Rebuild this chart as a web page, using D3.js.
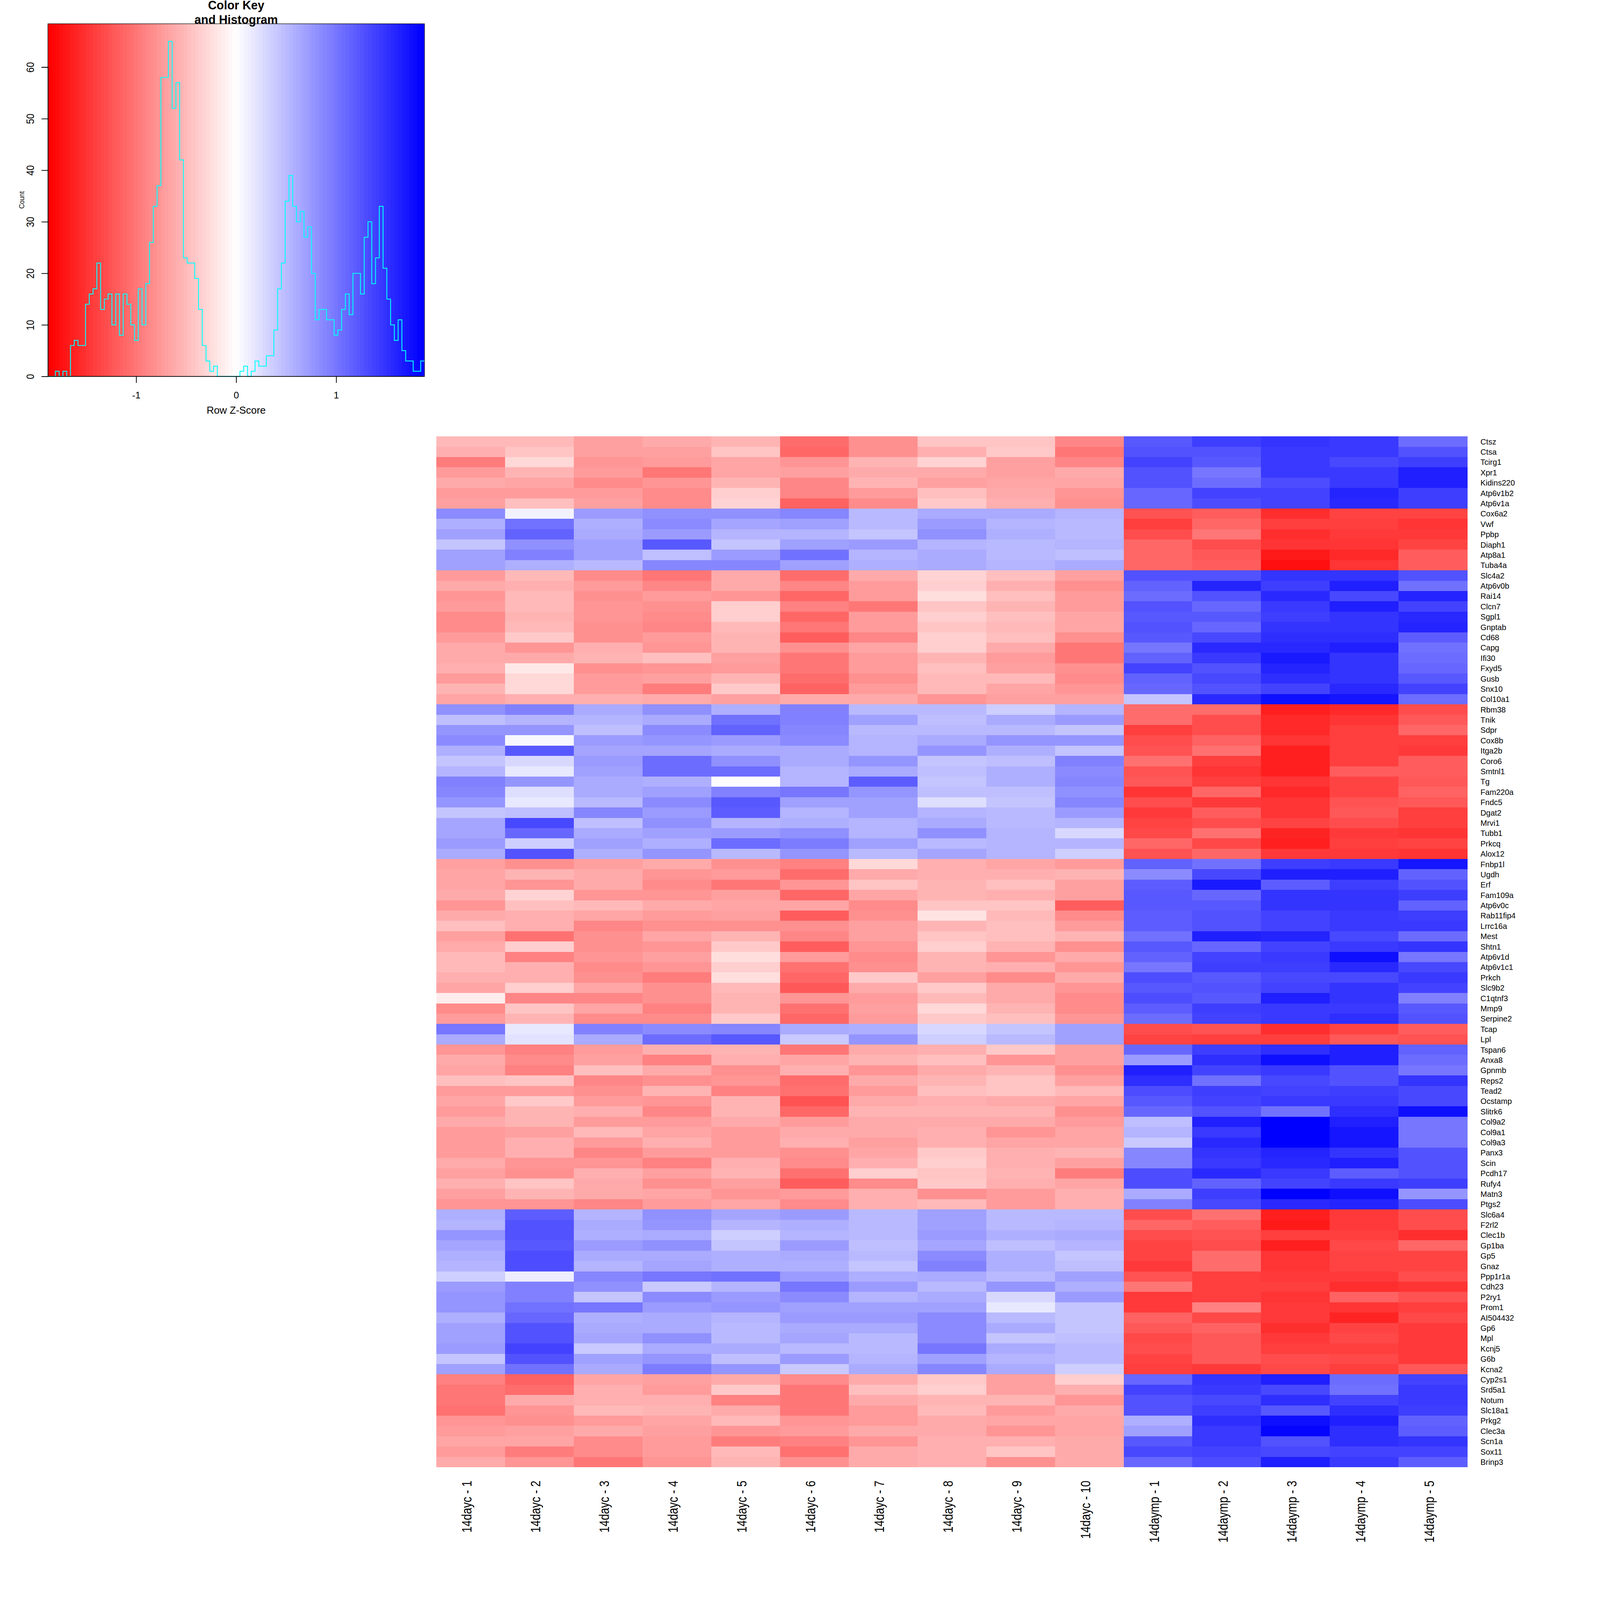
<!DOCTYPE html>
<html><head><meta charset="utf-8">
<script src="https://cdnjs.cloudflare.com/ajax/libs/d3/7.8.5/d3.min.js"></script>
<style>html,body{margin:0;padding:0;background:#fff;overflow:hidden}svg{display:block;width:min(100vw,100vh);height:min(100vw,100vh)}text{font-family:"Liberation Sans",Arial,sans-serif;fill:#000}</style>
</head><body><svg id="c" viewBox="0 0 4800 4800" preserveAspectRatio="xMinYMin meet"></svg>
<script>
const colLabels=["14dayc - 1","14dayc - 2","14dayc - 3","14dayc - 4","14dayc - 5","14dayc - 6","14dayc - 7","14dayc - 8","14dayc - 9","14dayc - 10","14daymp - 1","14daymp - 2","14daymp - 3","14daymp - 4","14daymp - 5"];
const rowLabels=["Ctsz","Ctsa","Tcirg1","Xpr1","Kidins220","Atp6v1b2","Atp6v1a","Cox6a2","Vwf","Ppbp","Diaph1","Atp8a1","Tuba4a","Slc4a2","Atp6v0b","Rai14","Clcn7","Sgpl1","Gnptab","Cd68","Capg","Ifi30","Fxyd5","Gusb","Snx10","Col10a1","Rbm38","Tnik","Sdpr","Cox8b","Itga2b","Coro6","Smtnl1","Tg","Fam220a","Fndc5","Dgat2","Mrvi1","Tubb1","Prkcq","Alox12","Fnbp1l","Ugdh","Erf","Fam109a","Atp6v0c","Rab11fip4","Lrrc16a","Mest","Shtn1","Atp6v1d","Atp6v1c1","Prkch","Slc9b2","C1qtnf3","Mmp9","Serpine2","Tcap","Lpl","Tspan6","Anxa8","Gpnmb","Reps2","Tead2","Ocstamp","Slitrk6","Col9a2","Col9a1","Col9a3","Panx3","Scin","Pcdh17","Rufy4","Matn3","Ptgs2","Slc6a4","F2rl2","Clec1b","Gp1ba","Gp5","Gnaz","Ppp1r1a","Cdh23","P2ry1","Prom1","AI504432","Gp6","Mpl","Kcnj5","G6b","Kcna2","Cyp2s1","Srd5a1","Notum","Slc18a1","Prkg2","Clec3a","Scn1a","Sox11","Brinp3"];
const zScores=[
[-.52,-.52,-.70,-.64,-.55,-1.06,-.82,-.45,-.45,-.90,1.23,1.41,1.50,1.44,1.08],
[-.60,-.42,-.70,-.68,-.42,-1.12,-.80,-.58,-.40,-1.00,1.25,1.25,1.44,1.44,1.28],
[-.95,-.28,-.76,-.74,-.66,-.76,-.56,-.33,-.68,-.88,1.38,1.23,1.44,1.32,1.42],
[-.72,-.56,-.74,-.98,-.66,-.70,-.62,-.62,-.70,-.62,1.28,1.00,1.44,1.44,1.65],
[-.62,-.66,-.84,-.76,-.55,-.88,-.53,-.70,-.66,-.66,1.28,1.08,1.30,1.44,1.65],
[-.74,-.72,-.72,-.84,-.37,-.90,-.72,-.46,-.62,-.76,1.12,1.38,1.38,1.60,1.42],
[-.68,-.48,-.70,-.84,-.32,-1.16,-.84,-.40,-.60,-.80,1.12,1.30,1.38,1.58,1.42],
[.86,.08,.72,.82,.82,.90,.52,.62,.62,.55,-1.25,-1.17,-1.53,-1.38,-1.38],
[.60,1.05,.58,.85,.65,.68,.52,.74,.55,.52,-1.42,-1.10,-1.42,-1.42,-1.47],
[.70,1.13,.64,.74,.56,.55,.44,.82,.58,.52,-1.30,-.98,-1.53,-1.45,-1.45],
[.44,.82,.70,1.23,.44,.70,.74,.56,.50,.55,-1.10,-1.30,-1.50,-1.50,-1.38],
[.70,.94,.70,.46,.72,1.03,.56,.62,.50,.46,-1.12,-1.23,-1.68,-1.55,-1.17],
[.70,.58,.50,.88,.90,.70,.58,.62,.56,.64,-1.12,-1.17,-1.76,-1.48,-1.17],
[-.72,-.50,-.86,-.98,-.62,-1.06,-.62,-.33,-.48,-.70,1.28,1.25,1.50,1.50,1.28],
[-.62,-.60,-.74,-.88,-.62,-.88,-.72,-.36,-.60,-.80,1.15,1.60,1.42,1.62,1.03],
[-.78,-.50,-.80,-.72,-.76,-1.10,-.74,-.24,-.46,-.72,1.08,1.28,1.58,1.35,1.60],
[-.74,-.52,-.76,-.80,-.36,-.92,-1.00,-.44,-.55,-.72,1.28,1.12,1.44,1.62,1.38],
[-.84,-.55,-.76,-.84,-.35,-1.12,-.72,-.37,-.48,-.66,1.22,1.23,1.40,1.50,1.55],
[-.84,-.50,-.80,-.90,-.52,-1.00,-.72,-.44,-.50,-.66,1.26,1.10,1.47,1.50,1.60],
[-.72,-.38,-.80,-.72,-.55,-1.17,-.88,-.35,-.46,-.82,1.22,1.33,1.53,1.53,1.20],
[-.62,-.78,-.58,-.76,-.55,-.82,-.66,-.35,-.62,-.98,1.00,1.55,1.55,1.65,1.05],
[-.62,-.64,-.53,-.48,-.70,-.98,-.72,-.53,-.74,-1.00,1.15,1.44,1.68,1.47,1.06],
[-.60,-.16,-.80,-.78,-.74,-1.00,-.72,-.46,-.68,-.80,1.38,1.26,1.60,1.47,1.10],
[-.72,-.28,-.72,-.68,-.55,-1.08,-.82,-.50,-.52,-.86,1.14,1.33,1.53,1.47,1.24],
[-.53,-.30,-.74,-.96,-.40,-1.14,-.74,-.52,-.66,-.78,1.12,1.26,1.38,1.55,1.38],
[-.66,-.60,-.60,-.64,-.68,-.64,-.62,-.76,-.70,-.70,.42,1.58,1.74,1.70,1.06],
[.80,.94,.64,.82,.58,.94,.50,.50,.35,.56,-1.06,-1.06,-1.62,-1.58,-1.30],
[.48,.55,.55,.62,1.03,.92,.70,.46,.62,.74,-1.06,-1.30,-1.58,-1.50,-1.24],
[.78,.78,.46,.85,1.14,.88,.52,.52,.52,.44,-1.40,-1.30,-1.58,-1.40,-1.10],
[.85,.06,.74,.76,.72,.84,.56,.62,.76,.76,-1.30,-1.14,-1.50,-1.42,-1.42],
[.60,1.23,.66,.66,.62,.64,.56,.76,.58,.44,-1.26,-1.04,-1.64,-1.40,-1.44],
[.42,.28,.72,1.06,.82,.62,.76,.44,.46,.94,-1.04,-1.40,-1.64,-1.40,-1.20],
[.56,.16,.70,1.06,1.06,.55,.64,.46,.58,.84,-1.26,-1.50,-1.62,-1.20,-1.17],
[.94,.76,.64,.58,.02,.55,1.18,.44,.58,.88,-1.22,-1.42,-1.50,-1.36,-1.22],
[.90,.24,.64,.70,.94,1.00,.76,.46,.48,.82,-1.50,-1.12,-1.56,-1.36,-1.14],
[.76,.16,.52,.86,1.24,.70,.70,.24,.42,.90,-1.30,-1.46,-1.48,-1.26,-1.23],
[.42,.46,.88,.74,1.17,.55,.70,.54,.50,.74,-1.46,-1.20,-1.48,-1.24,-1.40],
[.66,1.33,.46,.80,.54,.58,.54,.64,.50,.55,-1.36,-1.30,-1.38,-1.30,-1.42],
[.66,1.10,.62,.70,.72,.80,.54,.82,.54,.30,-1.32,-1.02,-1.60,-1.46,-1.50],
[.74,.36,.70,.58,1.06,.95,.70,.50,.54,.54,-1.12,-1.34,-1.65,-1.42,-1.38],
[.62,1.28,.58,.76,.52,.76,.52,.66,.54,.35,-1.28,-1.12,-1.46,-1.46,-1.48],
[-.68,-.80,-.70,-.62,-.82,-.94,-.30,-.60,-.66,-.72,1.14,1.02,1.42,1.44,1.70],
[-.66,-.54,-.64,-.78,-.72,-1.06,-.62,-.60,-.60,-.53,.86,1.33,1.65,1.65,1.15],
[-.66,-.78,-.62,-.86,-1.00,-.76,-.44,-.56,-.46,-.70,1.18,1.66,1.18,1.40,1.28],
[-.62,-.32,-.78,-.78,-.68,-1.12,-.66,-.55,-.60,-.68,1.24,1.10,1.50,1.50,1.40],
[-.78,-.46,-.52,-.64,-.66,-.66,-.84,-.42,-.42,-1.20,1.24,1.24,1.50,1.50,1.16],
[-.64,-.58,-.66,-.72,-.68,-1.18,-.80,-.20,-.50,-.84,1.20,1.28,1.38,1.46,1.42],
[-.48,-.58,-.90,-.80,-.80,-.80,-.68,-.55,-.46,-.72,1.20,1.28,1.38,1.46,1.46],
[-.68,-1.02,-.82,-.66,-.56,-.90,-.70,-.42,-.46,-.54,1.02,1.62,1.60,1.32,1.08],
[-.62,-.35,-.80,-.78,-.38,-1.20,-.78,-.35,-.55,-.82,1.22,1.12,1.38,1.46,1.50],
[-.50,-.94,-.76,-.70,-.26,-.74,-.84,-.55,-.76,-.62,1.16,1.36,1.46,1.76,.98],
[-.52,-.60,-.84,-.78,-.35,-1.02,-.82,-.56,-.58,-.78,1.00,1.40,1.40,1.55,1.32],
[-.58,-.58,-.80,-.96,-.24,-1.10,-.40,-.70,-.84,-.62,1.30,1.22,1.32,1.34,1.46],
[-.66,-.34,-.66,-.82,-.52,-1.24,-.64,-.38,-.62,-.78,1.23,1.28,1.38,1.50,1.36],
[-.12,-.88,-.90,-.82,-.56,-.78,-.72,-.52,-.62,-.84,1.30,1.22,1.65,1.50,.94],
[-.84,-.44,-.66,-.92,-.56,-1.02,-.70,-.30,-.54,-.84,1.20,1.40,1.46,1.46,1.22],
[-.74,-.54,-.84,-.84,-.40,-1.10,-.74,-.40,-.48,-.76,1.08,1.38,1.46,1.54,1.26],
[1.00,.16,.92,.86,.88,.64,.58,.30,.44,.70,-1.30,-1.26,-1.54,-1.38,-1.20],
[.64,.20,.64,1.06,1.24,.38,.76,.36,.52,.70,-1.36,-1.42,-1.42,-1.22,-1.28],
[-.76,-.92,-.72,-.60,-.55,-1.00,-.62,-.58,-.38,-.70,1.12,1.40,1.52,1.64,1.14],
[-.62,-.86,-.70,-.92,-.60,-.66,-.56,-.48,-.76,-.70,.72,1.54,1.74,1.64,1.06],
[-.66,-.92,-.46,-.62,-.80,-.58,-.76,-.64,-.55,-.82,1.64,1.38,1.46,1.26,1.00],
[-.46,-.42,-.90,-.82,-.78,-1.06,-.62,-.54,-.42,-.68,1.54,1.02,1.34,1.28,1.48],
[-.72,-.72,-.80,-.54,-.94,-1.04,-.74,-.46,-.42,-.50,1.30,1.40,1.38,1.42,1.32],
[-.66,-.40,-.72,-.76,-.54,-1.26,-.62,-.58,-.62,-.66,1.22,1.36,1.44,1.44,1.32],
[-.72,-.54,-.60,-.90,-.54,-1.10,-.54,-.56,-.54,-.82,1.10,1.25,1.04,1.52,1.76],
[-.62,-.54,-.72,-.72,-.62,-.74,-.62,-.62,-.64,-.72,.47,1.62,1.88,1.65,.98],
[-.72,-.68,-.52,-.66,-.74,-.64,-.64,-.60,-.76,-.66,.56,1.44,1.88,1.72,.98],
[-.72,-.60,-.72,-.60,-.72,-.60,-.68,-.60,-.66,-.66,.38,1.56,1.88,1.72,.98],
[-.72,-.60,-.88,-.74,-.74,-.82,-.66,-.40,-.60,-.54,.90,1.50,1.60,1.50,1.25],
[-.62,-.78,-.78,-.92,-.60,-.86,-.60,-.34,-.60,-.68,.90,1.46,1.58,1.62,1.25],
[-.68,-.82,-.58,-.70,-.56,-1.04,-.34,-.44,-.56,-.96,1.30,1.56,1.44,1.18,1.28],
[-.58,-.42,-.64,-.80,-.70,-1.18,-.84,-.38,-.60,-.66,1.30,1.16,1.36,1.46,1.40],
[-.70,-.56,-.62,-.66,-.76,-.74,-.58,-.82,-.72,-.58,.64,1.42,1.88,1.76,.78],
[-.76,-.76,-.88,-.74,-.66,-.84,-.58,-.50,-.74,-.58,.94,1.34,1.56,1.60,1.30],
[.58,1.18,.56,.80,.66,.74,.50,.70,.50,.50,-1.30,-1.04,-1.62,-1.44,-1.30],
[.56,1.28,.62,.76,.56,.58,.50,.68,.50,.56,-1.12,-1.20,-1.66,-1.46,-1.30],
[.76,1.28,.58,.62,.36,.54,.52,.72,.60,.64,-1.30,-1.26,-1.40,-1.40,-1.54],
[.66,1.24,.72,.82,.44,.74,.46,.66,.46,.56,-1.36,-1.30,-1.65,-1.34,-1.10],
[.58,1.30,.62,.62,.58,.62,.50,.85,.60,.44,-1.36,-1.06,-1.50,-1.38,-1.38],
[.56,1.30,.54,.66,.58,.58,.44,.94,.58,.46,-1.44,-1.06,-1.50,-1.38,-1.38],
[.36,.14,.90,1.00,1.03,.72,.58,.62,.50,.70,-1.26,-1.40,-1.44,-1.44,-1.30],
[.72,.92,.82,.38,.54,.98,.74,.52,.76,.60,-.98,-1.40,-1.40,-1.52,-1.50],
[.76,.94,.44,.84,.74,.86,.56,.62,.30,.74,-1.46,-1.40,-1.50,-1.14,-1.28],
[.78,1.04,.98,.72,.78,.70,.70,.70,.18,.42,-1.46,-.94,-1.46,-1.50,-1.40],
[.58,1.12,.58,.64,.54,.74,.74,.84,.52,.44,-1.14,-1.34,-1.46,-1.60,-1.34],
[.70,1.26,.64,.64,.50,.64,.62,.86,.62,.44,-1.24,-1.16,-1.54,-1.36,-1.46],
[.68,1.26,.66,.82,.52,.66,.52,.84,.44,.46,-1.32,-1.22,-1.46,-1.32,-1.44],
[.72,1.36,.40,.64,.62,.52,.50,1.00,.62,.50,-1.30,-1.24,-1.40,-1.40,-1.44],
[.44,1.28,.70,.76,.48,.74,.56,.68,.56,.50,-1.38,-1.22,-1.30,-1.34,-1.46],
[.70,1.02,.64,.96,.76,.38,.64,.88,.62,.34,-1.40,-1.46,-1.32,-1.42,-1.24],
[-.94,-1.14,-.66,-.68,-.62,-.84,-.62,-.40,-.68,-.36,1.10,1.50,1.64,1.08,1.36],
[-.98,-1.06,-.60,-.74,-.38,-1.00,-.46,-.36,-.68,-.60,1.38,1.44,1.34,1.04,1.46],
[-1.00,-.64,-.60,-.60,-.94,-1.00,-.62,-.56,-.54,-.76,1.26,1.32,1.54,1.36,1.46],
[-1.02,-.76,-.50,-.54,-.62,-1.00,-.74,-.50,-.74,-.62,1.28,1.42,1.24,1.54,1.40],
[-.78,-.80,-.74,-.66,-.50,-.76,-.74,-.64,-.66,-.66,.58,1.52,1.76,1.64,1.16],
[-.74,-.70,-.64,-.68,-.76,-.74,-.62,-.62,-.76,-.66,.70,1.46,1.82,1.54,1.20],
[-.66,-.66,-.84,-.74,-.96,-.92,-.76,-.60,-.60,-.64,1.24,1.46,1.28,1.52,1.48],
[-.74,-.96,-.84,-.74,-.52,-1.02,-.64,-.60,-.44,-.64,1.34,1.38,1.34,1.38,1.36],
[-.62,-.78,-1.00,-.76,-.54,-.80,-.62,-.58,-.80,-.62,1.12,1.30,1.62,1.44,1.20]
];
const histCounts=[0,0,1,0,1,0,6,7,6,6,14,16,17,22,13,15,16,10,16,8,16,14,10,7,17,10,18,26,33,37,58,58,65,52,57,42,23,22,22,19,13,6,3,1,2,0,0,0,0,0,0,1,2,0,1,3,2,2,4,4,9,17,22,34,39,33,30,32,27,29,20,11,13,13,11,11,8,9,13,16,12,20,20,16,27,30,18,23,33,21,15,10,7,11,5,3,3,1,1,3];
const zMax=1.883;
const xTicks=[-1,0,1], yTicks=[0,10,20,30,40,50,60];

const svg=d3.select("#c");
const ramp=d3.scaleLinear().domain([-1,0,1]).range(["#ff0000","#ffffff","#0000ff"]).interpolate(d3.interpolateRgb);
const palette=d3.range(histCounts.length).map(i=>ramp(-1+2*i/(histCounts.length-1)));
const colorOf=d3.scaleQuantize().domain([-zMax,zMax]).range(palette);

/* heat map */
const x=d3.scaleBand().domain(colLabels).range([1308.7,4402]);
const y=d3.scaleBand().domain(rowLabels).range([1309.2,4401.5]);
const heat=svg.append("g").attr("shape-rendering","crispEdges");
rowLabels.forEach((r,i)=>{
  heat.selectAll(null).data(zScores[i]).join("rect")
    .attr("x",(d,j)=>x(colLabels[j])).attr("y",y(r))
    .attr("width",x.bandwidth()+.5).attr("height",y.bandwidth()+.5)
    .attr("fill",d=>colorOf(d));
});
svg.append("g").selectAll("text").data(rowLabels).join("text")
  .attr("x",4441.5).attr("y",d=>y(d)+y.bandwidth()/2+8.5)
  .attr("font-size",23.5).text(d=>d);
svg.append("g").selectAll("text").data(colLabels).join("text")
  .attr("transform",d=>`translate(${x(d)+x.bandwidth()/2+2.5},4442) rotate(-90) scale(1,1.22)`)
  .attr("text-anchor","end").attr("font-size",33.4).text(d=>d);

/* colour key + histogram */
const kx=d3.scaleLinear().domain([-zMax,zMax]).range([143.6,1273.5]);
const ky=d3.scaleLinear().domain([0,60]).range([1129.3,201.5]);
const bw=(kx.range()[1]-kx.range()[0])/histCounts.length;
const key=svg.append("g");
key.append("g").attr("shape-rendering","crispEdges").selectAll("rect").data(palette).join("rect")
  .attr("x",(d,i)=>kx(-zMax)+i*bw).attr("y",71.3).attr("width",bw+.5).attr("height",ky(0)-71.3).attr("fill",d=>d);
const line=d3.line().curve(d3.curveStepAfter).x((d,i)=>kx(-zMax)+i*bw).y(d=>ky(d));
key.append("path").datum(histCounts.concat([histCounts[histCounts.length-1]]))
  .attr("d",line).attr("fill","none").attr("stroke","#00ffff").attr("stroke-width",2.6);
key.append("rect").attr("x",kx(-zMax)).attr("y",71.3).attr("width",kx(zMax)-kx(-zMax)).attr("height",ky(0)-71.3)
  .attr("fill","none").attr("stroke","#000").attr("stroke-width",1.4);

const ax=key.append("g").attr("transform",`translate(0,${ky(0)})`)
  .call(d3.axisBottom(kx).tickValues(xTicks).tickSize(19).tickPadding(0).tickFormat(d3.format("d")));
ax.select(".domain").remove();
ax.selectAll(".tick line").attr("stroke","#000").attr("stroke-width",2.2);
ax.selectAll(".tick text").attr("y",66).attr("dy",0).attr("font-size",28.5).attr("font-family",'"Liberation Sans"').text(d=>d<0?"-1":d);
const ay=key.append("g").attr("transform",`translate(${kx(-zMax)},0)`)
  .call(d3.axisLeft(ky).tickValues(yTicks).tickSize(19));
ay.select(".domain").attr("stroke","#000").attr("stroke-width",2.2);
ay.selectAll(".tick line").attr("stroke","#000").attr("stroke-width",2.2);
ay.selectAll(".tick text").attr("x",0).attr("dy",0).attr("text-anchor","middle").attr("font-size",28)
  .attr("font-family",'"Liberation Sans"').attr("transform","translate(-42,0) rotate(-90) scale(1,1.18)");
key.append("line").attr("x1",kx(-zMax)).attr("x2",kx(zMax)).attr("y1",ky(0)).attr("y2",ky(0)).attr("stroke","#000").attr("stroke-width",2.2);

key.append("text").attr("x",kx(0)).attr("y",1241).attr("text-anchor","middle").attr("font-size",30.4).text("Row Z-Score");
key.append("text").attr("transform","translate(72.6,600) rotate(-90) scale(1,1.15)").attr("text-anchor","middle").attr("font-size",19.6).text("Count");
key.append("text").attr("x",kx(0)).attr("y",28).attr("text-anchor","middle").attr("font-size",35.8).attr("font-weight","bold").text("Color Key");
key.append("text").attr("x",kx(0)).attr("y",71).attr("text-anchor","middle").attr("font-size",35.8).attr("font-weight","bold").text("and Histogram");
</script></body></html>
